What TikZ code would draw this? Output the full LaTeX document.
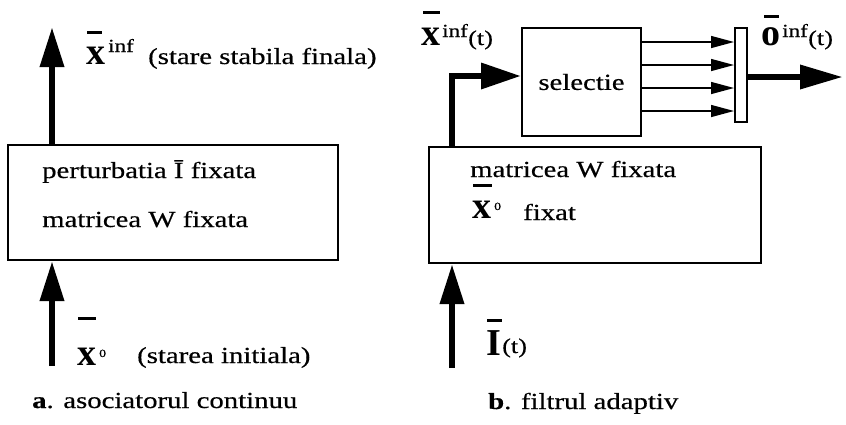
\documentclass[tikz,border=0pt]{standalone}
\usepackage{fontspec}
% widened, slightly heavy lettering
\setmainfont[FakeStretch=1.25, FakeBold=0.5]{Liberation Serif}
\newfontfamily\lblfont{Liberation Serif}
\usetikzlibrary{arrows.meta}

\tikzset{
  blockbox/.style={draw, line width=2pt, inner sep=0pt},
  txt/.style={inner sep=0pt, anchor=base west, font=\fontsize{23}{28}\selectfont},
  suptxt/.style={inner sep=0pt, anchor=base west, font=\fontsize{18.5}{22}\selectfont},
  argtxt/.style={inner sep=0pt, anchor=base west, font=\fontsize{21}{25}\selectfont},
  zerotxt/.style={inner sep=0pt, anchor=base west, font=\fontsize{11}{13}\selectfont},
  vecsym/.style={inner sep=0pt, anchor=base west, font=\lblfont\bfseries\fontsize{38}{42}\selectfont},
  vecbar/.style={line width=3pt},
  bigarrow/.style={line width=6.5pt, line join=miter, -{Triangle[length=40pt,width=23pt]}},
  thinarrow/.style={line width=1.4pt, -{Triangle[length=23pt,width=12pt]}}
}

\begin{document}
\begin{tikzpicture}[x=1pt, y=-1pt]
  \useasboundingbox (0,0) rectangle (846,424);

  % ---------- a. asociatorul continuu ----------
  \node[blockbox, anchor=north west, minimum width=330pt, minimum height=115pt] (boxA) at (7,144) {};
  \node[txt] (pA1) at (42,178) {perturbatia Ī fixata};
  \node[txt] (pA2) at (42,227) {matricea W fixata};

  \coordinate (tA) at (52,27);
  \draw[bigarrow] (tA |- boxA.north) -- (tA);
  \node[vecsym] (xinfA) at (86,64) {x};
  \draw[vecbar] (87,32) -- (102,32);
  \node[suptxt] (infA) at (108,52) {inf};
  \node[txt] (finA) at (148,64) {(stare stabila finala)};

  \coordinate (bA) at (52,366);
  \draw[bigarrow] (bA) -- (bA |- boxA.south);
  \node[vecsym] (x0A) at (77,365) {x};
  \draw[vecbar] (78,318) -- (96,318);
  \node[zerotxt] (zA) at (99,357) {0};
  \node[txt] (iniA) at (137,363) {(starea initiala)};

  \node[txt] (capA) at (32,408) {\textbf{a}. asociatorul continuu};

  % ---------- b. filtrul adaptiv ----------
  \node[blockbox, anchor=north west, minimum width=332pt, minimum height=116pt] (boxB) at (428,146) {};
  \node[txt] (pB1) at (470,177) {matricea W fixata};
  \draw[vecbar] (473,185) -- (492,185);
  \node[vecsym] (x0B) at (472,218) {x};
  \node[zerotxt] (zB) at (494,210) {0};
  \node[txt] (pB2) at (523,220) {fixat};

  \node[blockbox, minimum width=119pt, minimum height=108pt, font=\fontsize{23}{28}\selectfont] (sel) at (581.5,82) {selectie};
  \node[blockbox, minimum width=12pt, minimum height=94pt] (comb) at (741,75) {};

  % feedback of the state into the selection block
  \coordinate (fb) at (452,76);
  \draw[bigarrow, -{Triangle[length=40pt,width=25pt]}] (fb |- boxB.north) -- (fb) -- (sel.west |- fb);
  \node[vecsym] (xinfB) at (421,45) {x};
  \draw[vecbar] (423,12) -- (440,12);
  \node[suptxt] (infB) at (442,37) {inf};
  \node[argtxt] (tB) at (468,45) {(t)};

  % parallel outputs of the selection block
  \foreach \yy in {42,65,88,111}
    \draw[thinarrow] (sel.east |- 0,\yy) -- (comb.west |- 0,\yy);

  % filter output
  \coordinate (out) at (843,77);
  \draw[bigarrow, -{Triangle[length=43pt,width=23pt]}] (comb.east |- out) -- (out);
  \node[vecsym] (oinf) at (761,45) {o};
  \draw[vecbar] (764,16) -- (779,16);
  \node[suptxt] (infO) at (782,37) {inf};
  \node[argtxt] (tO) at (808,45) {(t)};

  % external input
  \coordinate (bB) at (452,368);
  \draw[bigarrow] (bB) -- (bB |- boxB.south);
  \node[vecsym] (IB) at (486,355) {I};
  \draw[vecbar] (487,320) -- (502,320);
  \node[argtxt] (tI) at (502,353) {(t)};

  \node[txt] (capB) at (488,409) {\textbf{b}. filtrul adaptiv};
\end{tikzpicture}
\end{document}
